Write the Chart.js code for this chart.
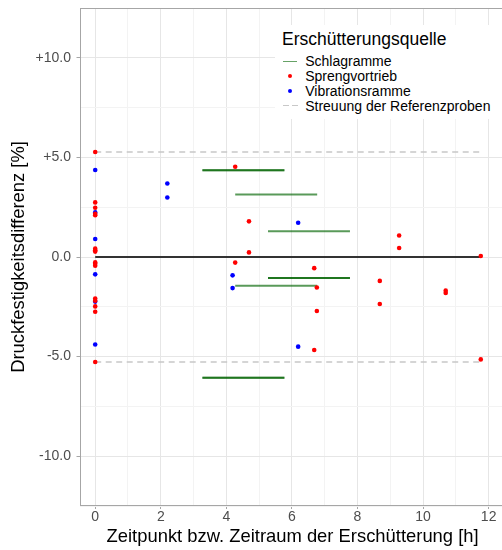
<!DOCTYPE html>
<html><head><meta charset="utf-8">
<script src="https://cdn.jsdelivr.net/npm/chart.js@4.4.1/dist/chart.umd.min.js"></script>
<style>
html,body{margin:0;padding:0;background:#fff;overflow:hidden;width:502px;height:550px;}
#wrap{position:relative;width:502px;height:550px;overflow:hidden;}
canvas{position:absolute;left:0;top:0;}
#legend{position:absolute;left:275px;top:25px;width:227px;height:94px;background:#fff;font-family:"Liberation Sans",Arial,sans-serif;color:#000;}
#legend .t{position:absolute;left:7px;top:3.9px;font-size:17.5px;line-height:20px;white-space:nowrap;}
#legend .e{position:absolute;left:30.2px;font-size:14px;line-height:16px;white-space:nowrap;}
#legend .k{position:absolute;}
</style></head>
<body><div id="wrap"><canvas id="c" width="508" height="550"></canvas>
<div id="legend">
  <div class="t">Erschütterungsquelle</div>
  <div class="k" style="left:8.3px;top:35.8px;width:13.4px;height:1.4px;background:rgba(0,100,0,0.6)"></div>
  <div class="k" style="left:12.8px;top:49.1px;width:4.4px;height:4.4px;border-radius:50%;background:#ff0000"></div>
  <div class="k" style="left:12.8px;top:63.8px;width:4.4px;height:4.4px;border-radius:50%;background:#0000ff"></div>
  <div class="k" style="left:8.3px;top:80px;width:5.5px;height:1.4px;background:#c8c8c8"></div>
  <div class="k" style="left:17px;top:80px;width:5.5px;height:1.4px;background:#c8c8c8"></div>
  <div class="e" style="top:28.45px">Schlagramme</div>
  <div class="e" style="top:43.15px">Sprengvortrieb</div>
  <div class="e" style="top:57.85px">Vibrationsramme</div>
  <div class="e" style="top:72.55px">Streuung der Referenzproben</div>
</div></div>
<script>
// Sprengvortrieb (red points)
const sprengX = [0,0,0,0,0,0,0,0,0,0,0,0,0,0,0,0,
  4.27,4.69,4.69,4.27,6.68,6.76,6.76,6.68,8.68,8.68,9.27,9.27,10.69,10.69,11.76,11.76];
const sprengY = [5.27,2.74,2.47,2.17,2.10,0.42,0.34,0.27,-0.27,-0.34,-0.44,-2.08,-2.48,-2.75,-5.27,-2.2,
  4.53,1.79,0.23,-0.28,-0.56,-1.53,-2.71,-4.67,-1.20,-2.36,1.08,0.45,-1.69,-1.81,0.05,-5.14];
// Vibrationsramme (blue points)
const vibX = [0,0,0,0,0,0,2.2,2.2,6.19,4.19,4.19,6.19];
const vibY = [4.37,2.24,0.90,-0.87,-2.24,-4.39,3.69,2.99,1.72,-0.92,-1.56,-4.50];
// Schlagramme (time spans)
const schlagStart = [3.27,3.27,4.27,5.27,5.27,5.27,4.27,3.27,3.27];
const schlagEnd   = [5.77,5.77,6.77,7.77,7.77,7.77,6.77,5.77,5.77];
const schlagY     = [4.35,4.35,3.14,1.29,-1.05,-1.05,-1.44,-6.06,-6.06];
// reference scatter band and zero line
const refBand = [5.27,-5.27];
const refStart = 0, refEnd = 11.76;
const zeroY = 0;
// ticks
const xTickValues = [0,2,4,6,8,10,12];
const xTickLabels = ['0','2','4','6','8','10','12'];
const yTickValues = [-10,-5,0,5,10];
const yTickLabels = ['-10.0','-5.0','0.0','+5.0','+10.0'];

const datasets = [];
datasets.push({label:'Sprengvortrieb', data: sprengX.map((x,i)=>({x:x,y:sprengY[i]})),
  backgroundColor:'#ff0000', borderWidth:0, pointRadius:2.3, pointHoverRadius:2.3, order:0});
datasets.push({label:'Vibrationsramme', data: vibX.map((x,i)=>({x:x,y:vibY[i]})),
  backgroundColor:'#0000ff', borderWidth:0, pointRadius:2.3, pointHoverRadius:2.3, order:0});
schlagStart.forEach((s,i)=>{
  datasets.push({label:'Schlagramme', data:[{x:s,y:schlagY[i]},{x:schlagEnd[i],y:schlagY[i]}],
    showLine:true, borderColor:'rgba(0,100,0,0.65)', borderWidth:2, pointRadius:0, borderCapStyle:'butt', order:1});
});
datasets.push({label:'Null', data:[{x:refStart,y:zeroY},{x:refEnd,y:zeroY}], showLine:true,
  borderColor:'#333333', borderWidth:1.8, pointRadius:0, borderCapStyle:'butt', order:2});
refBand.forEach(v=>{
  datasets.push({label:'Streuung der Referenzproben', data:[{x:refStart,y:v},{x:refEnd,y:v}], showLine:true,
    borderColor:'#c8c8c8', borderWidth:1.4, borderDash:[6,4.5], pointRadius:0, borderCapStyle:'butt', order:2});
});

const panelBorder = {
  id:'panelBorder',
  afterDatasetsDraw(chart){
    const a = chart.chartArea, ctx = chart.ctx;
    ctx.save(); ctx.strokeStyle='#a6a6a6'; ctx.lineWidth=1;
    ctx.strokeRect(Math.round(a.left)+0.5, Math.round(a.top)+0.5, Math.round(a.right-a.left), Math.round(a.bottom-a.top)-1);
    ctx.restore();
  }
};

const isMajor = (v, arr) => arr.some(t => Math.abs(t - v) < 1e-6);
const font = 'Liberation Sans, Arial, sans-serif';

new Chart(document.getElementById('c'), {
  type:'scatter',
  data:{datasets:datasets},
  options:{
    responsive:false, animation:false, devicePixelRatio:1,
    layout:{padding:{top:8,left:0,right:0,bottom:0}},
    plugins:{legend:{display:false}, tooltip:{enabled:false}},
    scales:{
      x:{type:'linear', min:-0.479, max:12.52,
        afterFit(s){ s.height = 44; s.paddingLeft = 0; s.paddingRight = 0; },
        border:{display:false},
        grid:{color:(c)=>isMajor(c.tick.value,xTickValues)?'#e6e6e6':'#f3f3f3', lineWidth:1,
          drawTicks:true, tickLength:3, tickColor:(c)=>isMajor(c.tick.value,xTickValues)?'#a6a6a6':'rgba(0,0,0,0)'},
        ticks:{stepSize:1, includeBounds:false, autoSkip:false, maxRotation:0, padding:0,
          color:'#4d4d4d', font:{family:font, size:14},
          callback:(v)=>{const i=xTickValues.findIndex(t=>Math.abs(t-v)<1e-6); return i>=0?xTickLabels[i]:'';}},
        title:{display:true, text:'Zeitpunkt bzw. Zeitraum der Erschütterung [h]', color:'#000',
          font:{family:font, size:18.4}, padding:{top:0,bottom:2.4}}
      },
      y:{type:'linear', min:-12.5, max:12.5,
        afterFit(s){ s.width = 79.5; s.paddingTop = 0; s.paddingBottom = 0; },
        border:{display:false},
        grid:{color:(c)=>isMajor(c.tick.value,yTickValues)?'#e6e6e6':'#f3f3f3', lineWidth:1,
          drawTicks:true, tickLength:3, tickColor:(c)=>isMajor(c.tick.value,yTickValues)?'#a6a6a6':'rgba(0,0,0,0)'},
        ticks:{stepSize:2.5, includeBounds:false, autoSkip:false, padding:5.5,
          color:'#4d4d4d', font:{family:font, size:14},
          callback:(v)=>{const i=yTickValues.findIndex(t=>Math.abs(t-v)<1e-6); return i>=0?yTickLabels[i]:'';}},
        title:{display:true, text:'Druckfestigkeitsdifferenz [%]', color:'#000',
          font:{family:font, size:18.4}, padding:{top:7.5,bottom:0}}
      }
    }
  },
  plugins:[panelBorder]
});
</script>
</body></html>
